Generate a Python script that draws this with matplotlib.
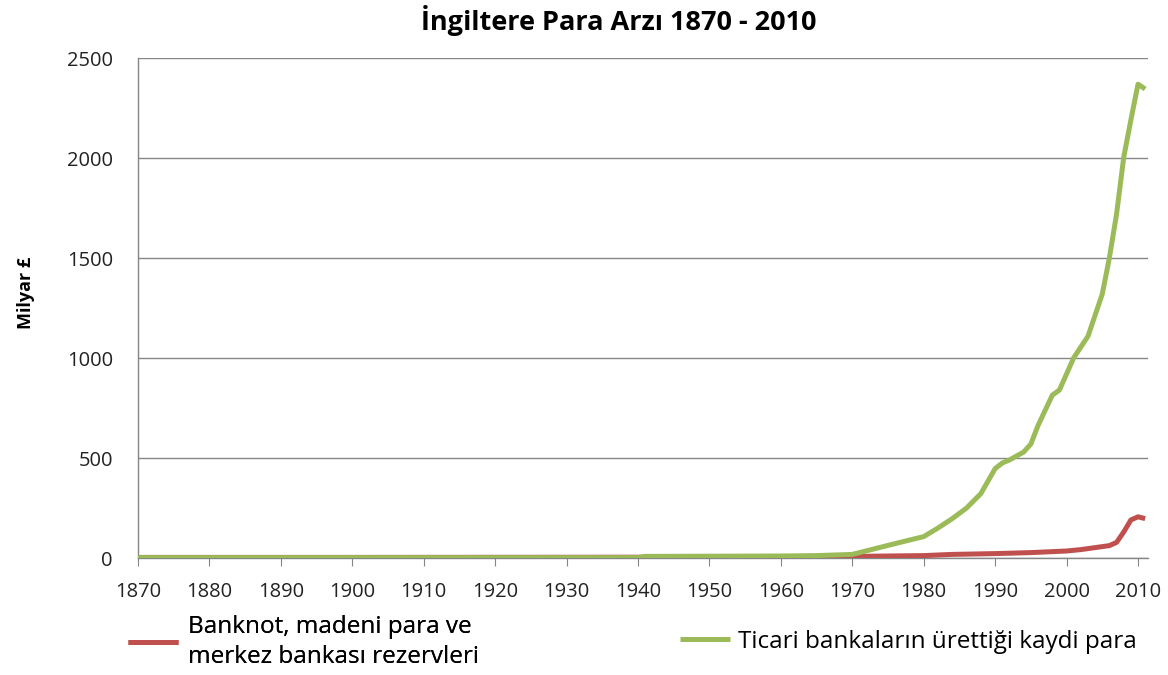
import matplotlib
matplotlib.use("Agg")
import matplotlib.pyplot as plt

# Data (billion £)
years_cb = [1870, 1900, 1940, 1960, 1970, 1980, 1984, 1990, 1995, 2000, 2002, 2004, 2006, 2007, 2008, 2009, 2010, 2011]
notes_reserves = [3, 3, 4, 6, 8, 12, 18, 22, 27, 35, 42, 52, 62, 78, 130, 190, 206, 197]

years_bank = [1870, 1900, 1940, 1941, 1960, 1965, 1970, 1972, 1976, 1980, 1982, 1984, 1986, 1988, 1990,
              1991, 1992, 1994, 1995, 1996, 1998, 1999, 2001, 2003, 2005, 2006, 2007, 2008, 2009, 2010, 2011]
bank_money = [2, 2, 2, 8, 10, 12, 18, 36, 72, 107, 150, 197, 250, 322, 447,
              475, 490, 530, 570, 662, 814, 840, 1001, 1109, 1320, 1502, 1720, 2003, 2190, 2369, 2345]

title = "İngiltere Para Arzı 1870 - 2010"
ylabel = "Milyar £"
label_red = "Banknot, madeni para ve\nmerkez bankası rezervleri"
label_green = "Ticari bankaların ürettiği kaydi para"
xticks = list(range(1870, 2011, 10))
yticks = [0, 500, 1000, 1500, 2000, 2500]

plt.rcParams['font.family'] = ['Open Sans', 'DejaVu Sans']

fig = plt.figure(figsize=(11.68, 6.75), dpi=100)
ax = fig.add_axes([138/1168, 1 - 558/675, (1148-138)/1168, 500/675])

red, = ax.plot(years_cb, notes_reserves, color='#C0504D', lw=3.6, solid_capstyle='butt', zorder=3)
green, = ax.plot(years_bank, bank_money, color='#9BBB59', lw=3.6, solid_capstyle='butt', zorder=4)

ax.set_xlim(1870, 2011.4)
ax.set_ylim(0, 2500)
ax.set_xticks(xticks)
ax.set_yticks(yticks)
ax.tick_params(axis='x', direction='out', length=6, color='#868686', labelsize=14.5, labelcolor='#222222', pad=11)
ax.tick_params(axis='y', length=0, labelsize=14.5, labelcolor='#222222', pad=18)
ax.yaxis.grid(True, color='#868686', lw=1)
ax.set_axisbelow(True)
for s in ['top', 'right']:
    ax.spines[s].set_visible(False)
for s in ['left', 'bottom']:
    ax.spines[s].set_color('#868686')
    ax.spines[s].set_linewidth(1)

fig.text(619/1168, 1 - 20/675, title, ha='center', va='center', fontsize=19.5, fontweight='bold')
fig.text(26/1168, 1 - 293/675, ylabel, rotation=90, ha='center', va='center', fontsize=13, fontweight='bold')

legfont = {'family': ['Open Sans', 'DejaVu Sans'], 'size': 17.5}
leg1 = fig.legend([red], [label_red], loc='center left', bbox_to_anchor=(128/1168, 1 - 642/675),
                  frameon=False, prop=legfont, handlelength=2.05, handletextpad=0.4, borderaxespad=0,
                  borderpad=0)
for t in leg1.get_texts():
    t.set_linespacing(1.3)
fig.add_artist(leg1)
leg2 = fig.legend([green], [label_green], loc='center left', bbox_to_anchor=(680/1168, 1 - 642/675),
                  frameon=False, prop=legfont, handlelength=2.05, handletextpad=0.35, borderaxespad=0,
                  borderpad=0)

fig.savefig("out.png", dpi=100)
